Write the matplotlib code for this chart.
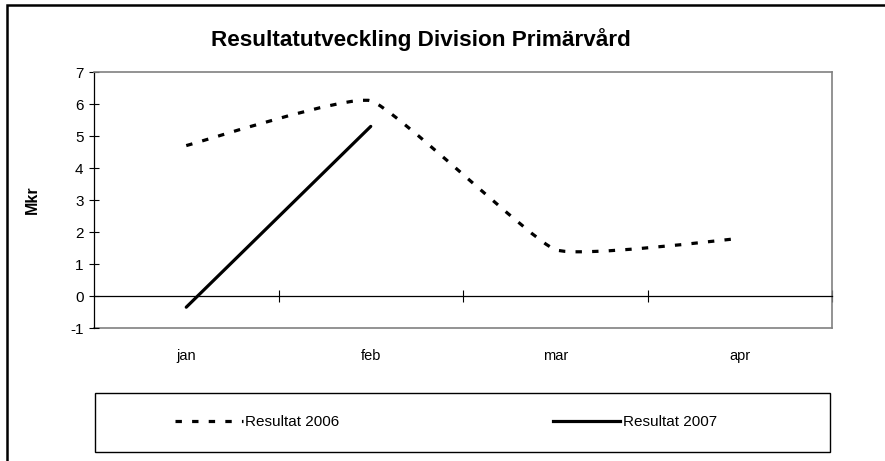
import numpy as np
import matplotlib.pyplot as plt
from matplotlib.path import Path
from matplotlib.patches import PathPatch, Rectangle
from matplotlib.lines import Line2D

plt.rcParams['font.family'] = ['Liberation Sans', 'DejaVu Sans']
plt.rcParams['axes.unicode_minus'] = False

# data
manader = ['jan', 'feb', 'mar', 'apr']
resultat_2006 = [4.7, 6.1, 1.45, 1.8]
resultat_2007 = [-0.35, 5.3]
y_ticks = [-1, 0, 1, 2, 3, 4, 5, 6, 7]


def smooth_path(xs, ys, k=16):
    # utjämnad linje (som i Excel), bezierkurvor genom punkterna
    pts = np.column_stack([xs, ys]).astype(float)
    n = len(pts)
    verts = [pts[0]]
    codes = [Path.MOVETO]
    for i in range(n - 1):
        p0 = pts[i - 1] if i > 0 else pts[i]
        p1 = pts[i]
        p2 = pts[i + 1]
        p3 = pts[i + 2] if i + 2 < n else p2
        verts += [p1 + (p2 - p0) / k, p2 - (p3 - p1) / k, p2]
        codes += [Path.CURVE4] * 3
    return Path(verts, codes)


fig = plt.figure(figsize=(8.85, 4.61), dpi=100)
W, H = 885, 461
ax = fig.add_axes([94 / W, 1 - 328 / H, (832 - 94) / W, (328 - 72) / H])

x = np.arange(len(manader))
lw = 2.3
dash = (0, (2.0, 3.2))

ax.add_patch(PathPatch(smooth_path(x, resultat_2006), fill=False, lw=lw,
                       linestyle=dash, edgecolor='black', capstyle='butt'))
ax.plot(x[:len(resultat_2007)], resultat_2007, color='black', lw=lw,
        solid_capstyle='round')

ax.set_xlim(-0.5, len(manader) - 0.5)
ax.set_ylim(-1, 7)
ax.set_yticks(y_ticks)
ax.tick_params(axis='y', direction='inout', length=7, width=0.8,
               labelsize=11, pad=4)

# x-axeln vid 0 med streck mellan kategorierna
ax.spines['bottom'].set_position(('data', 0))
ax.spines['bottom'].set_linewidth(0.9)
ax.set_xticks(np.arange(len(manader)) + 0.5)
ax.set_xticklabels([])
ax.tick_params(axis='x', direction='inout', length=8, width=0.8)

# kategorietiketter under ritytan
sec = ax.secondary_xaxis('bottom')
sec.set_xticks(x)
sec.set_xticklabels(manader)
sec.tick_params(length=0, labelsize=10.5, pad=15)
sec.spines['bottom'].set_color('#808080')
sec.spines['bottom'].set_linewidth(1.2)

ax.spines['top'].set_color('#808080')
ax.spines['top'].set_linewidth(1.2)
ax.spines['right'].set_color('#808080')
ax.spines['right'].set_linewidth(1.2)
ax.spines['left'].set_linewidth(0.9)

ax.set_ylabel('Mkr', fontsize=11.5, fontweight='bold')
ax.yaxis.set_label_coords(-(94 - 40) / (832 - 94), 0.5)

fig.text(421 / W, 1 - 40 / H, 'Resultatutveckling Division Primärvård',
         ha='center', va='center', fontsize=16.2, fontweight='bold')

# legend
fig.patches.append(Rectangle((95 / W, 1 - 452 / H), 735 / W, 59 / H,
                             transform=fig.transFigure, fill=False,
                             edgecolor='black', lw=1))
handles = [Line2D([], [], color='black', lw=lw, linestyle=dash),
           Line2D([], [], color='black', lw=lw)]
fig.legend(handles, ['Resultat 2006', 'Resultat 2007'], loc='center',
           bbox_to_anchor=(446 / W, 1 - 422 / H), ncol=2, frameon=False,
           fontsize=11, handlelength=4.4, handletextpad=0.15,
           columnspacing=14.0)

# ram runt diagrammet
fig.patches.append(Rectangle((7 / W, -0.1), 1.2, 1.1 - 5 / H,
                             transform=fig.transFigure, fill=False,
                             edgecolor='black', lw=1.8))

fig.savefig('out.png', dpi=100)
